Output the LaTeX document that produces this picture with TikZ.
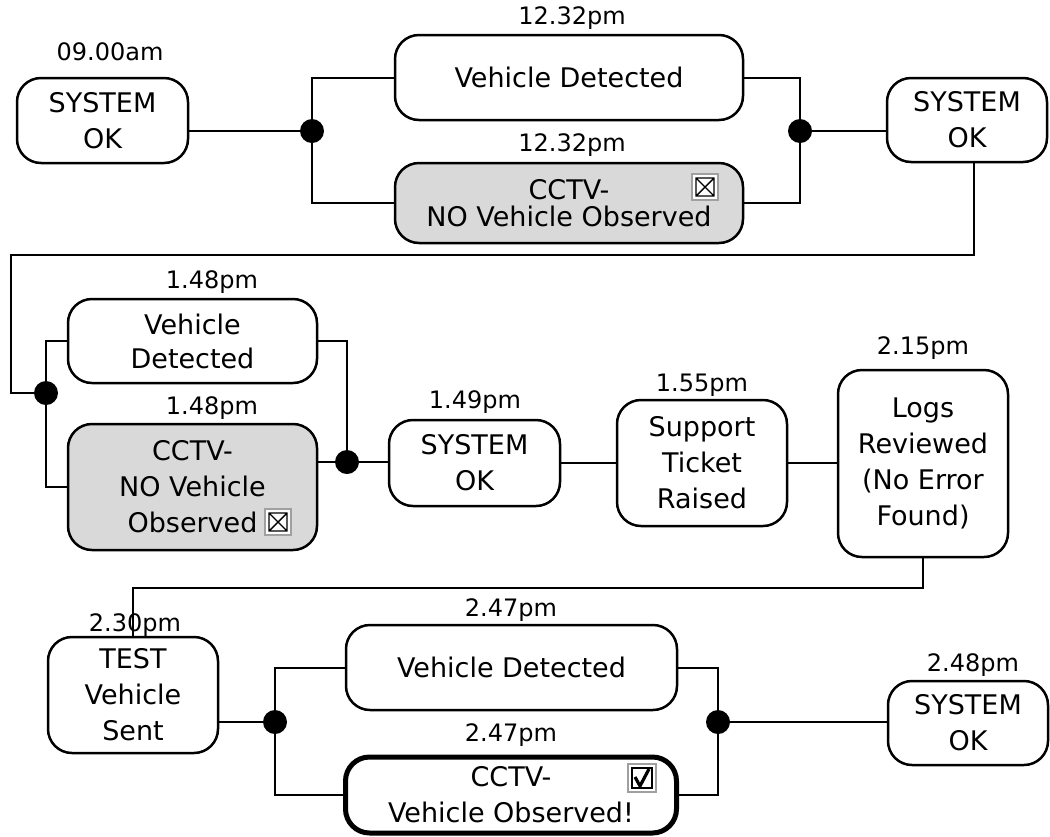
\documentclass[tikz,border=0pt]{standalone}
\usepackage{fontspec}
\setmainfont{DejaVu Sans}
\definecolor{boxgray}{RGB}{217,217,217}
\definecolor{cbgray}{RGB}{160,160,160}
\begin{document}
\begin{tikzpicture}[x=0.5pt,y=-0.5pt,
  box/.style={draw, line width=1.25pt, rounded corners=12pt, align=center, inner sep=0pt,
              font=\fontsize{13.5}{18}\selectfont},
  gbox/.style={box, fill=boxgray},
  tlabel/.style={font=\fontsize{12}{14}\selectfont, inner sep=0pt},
  conn/.style={line width=1pt},
  jdot/.style={circle, fill=black, inner sep=0pt, minimum size=12pt},
  xbox/.pic={
    \draw[draw=cbgray, line width=1pt, fill=white] (-13,-13) rectangle (13,13);
    \draw[line width=0.7pt] (-9,-9) rectangle (9,9) (-9,-9) -- (9,9) (-9,9) -- (9,-9);
  },
  ckbox/.pic={
    \draw[draw=cbgray, line width=1pt, fill=white] (-14,-14) rectangle (14,14);
    \draw[line width=0.7pt] (-10,-10) rectangle (10,10);
    \draw[line width=1.6pt, line join=round] (-7,-1) -- (-2,8) -- (7,-9);
  }
]
\useasboundingbox (0,0) rectangle (1050,836);

% ---- boxes ----
\node[box, minimum width=85.5pt, minimum height=42.5pt] (sys1) at (102.5,120.5) {SYSTEM\\OK};
\node[box, minimum width=174pt, minimum height=42.5pt] (vd1) at (569,77.5) {Vehicle Detected};
\node[gbox, minimum width=174pt, minimum height=40pt, font=\fontsize{13.5}{13.5}\selectfont] (cc1) at (569,203) {CCTV-\\NO Vehicle Observed};
\node[box, minimum width=80pt, minimum height=42pt] (sys2) at (967,120) {SYSTEM\\OK};

\node[box, minimum width=124.5pt, minimum height=42pt, font=\fontsize{13.5}{17}\selectfont] (vd2) at (192.5,341) {Vehicle\\Detected};
\node[gbox, minimum width=124.5pt, minimum height=63pt] (cc2) at (192.5,487) {CCTV-\\NO Vehicle\\Observed};
\node[box, minimum width=85.5pt, minimum height=43pt] (sys3) at (474.5,463) {SYSTEM\\OK};
\node[box, minimum width=85pt, minimum height=63pt] (sup) at (702,463) {Support\\Ticket\\Raised};
\node[box, minimum width=85pt, minimum height=93.5pt] (logs) at (923,463.5) {Logs\\Reviewed\\(No Error\\Found)};

\node[box, minimum width=85pt, minimum height=58pt] (test) at (133,695) {TEST\\Vehicle\\Sent};
\node[box, minimum width=165.5pt, minimum height=42.5pt] (vd3) at (511.5,667.5) {Vehicle Detected};
\node[box, line width=2.5pt, minimum width=165.5pt, minimum height=38pt] (cc3) at (511,795) {CCTV-\\Vehicle Observed!};
\node[box, minimum width=80pt, minimum height=42pt] (sys4) at (968,723) {SYSTEM\\OK};

% ---- junction dots ----
\node[jdot] (d1) at (312,131) {};
\node[jdot] (d2) at (800,131) {};
\node[jdot] (d3) at (46,393) {};
\node[jdot] (d4) at (347,462) {};
\node[jdot] (d5) at (275,722) {};
\node[jdot] (d6) at (718,722) {};

\coordinate (c1) at (974,255);
\coordinate (c2) at (11,255);
\coordinate (c3) at (923,588);
\coordinate (c4) at (133,588);

% ---- connectors ----
\draw[conn] (sys1.east |- d1) -- (d1.center);
\draw[conn] (vd1.west) -| (d1.center) |- (cc1.west);
\draw[conn] (vd1.east) -| (d2.center) |- (cc1.east);
\draw[conn] (d2.center) -- (sys2.west |- d2);
\draw[conn] (sys2.south -| c1) -- (c1) -- (c2) |- (d3.center);
\draw[conn] (vd2.west) -| (d3.center) |- (cc2.west);
\draw[conn] (vd2.east) -| (d4.center) -- (sys3.west |- d4);
\draw[conn] (cc2.east |- d4) -- (d4.center);
\draw[conn] (sys3.east) -- (sup.west);
\draw[conn] (sup.east) -- (sup.east -| logs.west);
\draw[conn] (logs.south -| c3) -- (c3) -- (c4) -- (test.north -| c4);
\draw[conn] (test.east |- d5) -- (d5.center);
\draw[conn] (vd3.west) -| (d5.center) |- (cc3.west);
\draw[conn] (vd3.east) -| (d6.center) |- (cc3.east);
\draw[conn] (d6.center) -- (sys4.west |- d6);

% ---- check boxes ----
\pic at (705,187) {xbox};
\pic at (278,522) {xbox};
\pic at (642,778) {ckbox};

% ---- time labels ----
\node[tlabel] (t1) at (110,52) {09.00am};
\node[tlabel] (t2) at (572,18) {12.32pm};
\node[tlabel] (t3) at (572,145) {12.32pm};
\node[tlabel] (t4) at (212,282) {1.48pm};
\node[tlabel] (t5) at (212,408) {1.48pm};
\node[tlabel] (t6) at (475,402) {1.49pm};
\node[tlabel] (t7) at (702,385) {1.55pm};
\node[tlabel] (t8) at (923,348) {2.15pm};
\node[tlabel] (t9) at (135,625) {2.30pm};
\node[tlabel] (t10) at (511,610) {2.47pm};
\node[tlabel] (t11) at (511,735) {2.47pm};
\node[tlabel] (t12) at (973,665) {2.48pm};
\end{tikzpicture}
\end{document}
